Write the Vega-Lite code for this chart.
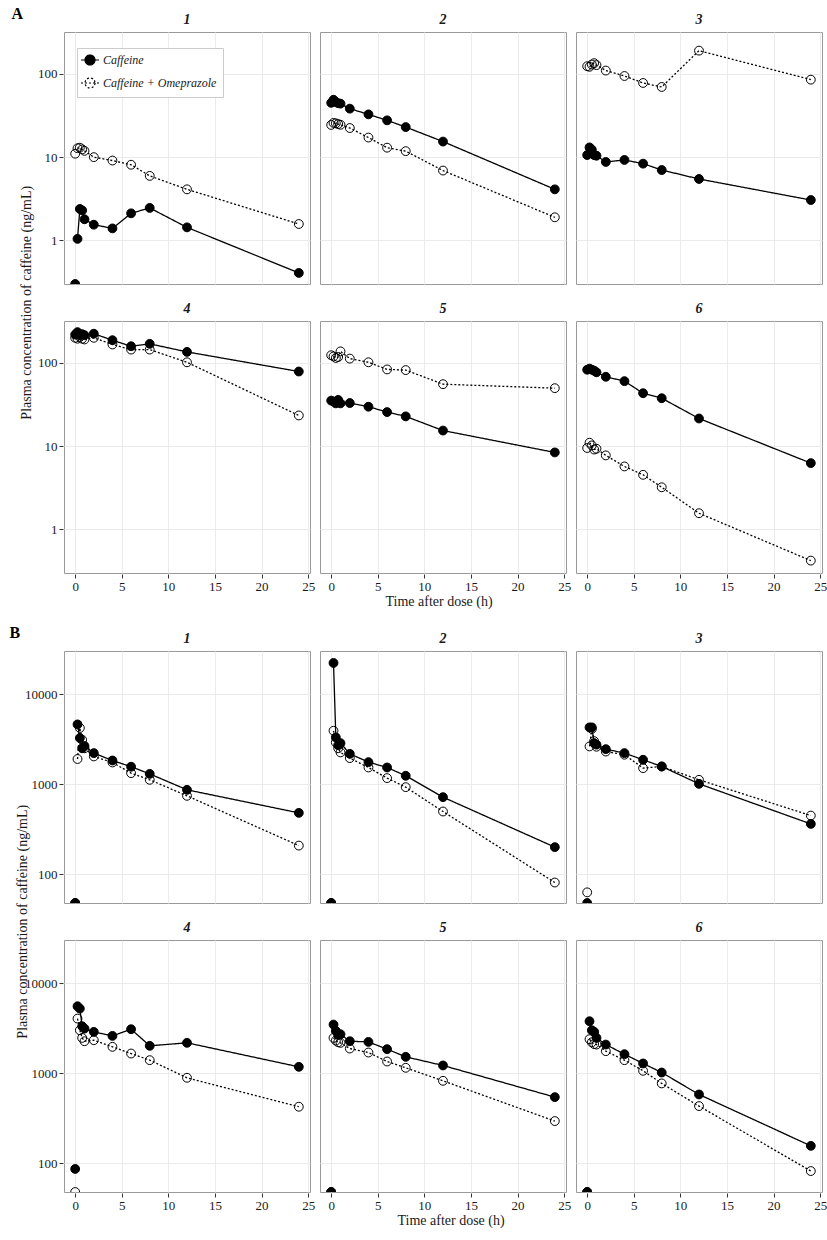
{
"$schema":"https://vega.github.io/schema/vega-lite/v6.json",
"background":"white",
"padding":{"left":9,"top":5,"right":3,"bottom":5},
"config":{
 "font":"Liberation Serif",
 "view":{"stroke":"#9a9a9a","strokeWidth":1},
 "axis":{"domain":false,"grid":true,"gridColor":"#ebebeb","gridWidth":1,"tickColor":"#333333","tickSize":4,"labelFont":"Liberation Serif","labelFontSize":13,"labelColor":"#1a1a1a","labelPadding":2},
 "header":{"title":null,"labelFont":"Liberation Serif","labelFontSize":14,"labelFontStyle":"italic","labelFontWeight":"bold","labelColor":"#1a1a1a","labelPadding":5},
 "title":{"font":"Liberation Serif","color":"#1a1a1a","fontWeight":"normal","fontSize":14}
},
"datasets":{
"A":[
{"subj":1,"trt":"Caffeine","time":0,"conc":0.298},{"subj":1,"trt":"Caffeine","time":0.25,"conc":1.04},{"subj":1,"trt":"Caffeine","time":0.5,"conc":2.38},{"subj":1,"trt":"Caffeine","time":0.75,"conc":2.29},{"subj":1,"trt":"Caffeine","time":1,"conc":1.79},{"subj":1,"trt":"Caffeine","time":2,"conc":1.54},{"subj":1,"trt":"Caffeine","time":4,"conc":1.39},{"subj":1,"trt":"Caffeine","time":6,"conc":2.11},{"subj":1,"trt":"Caffeine","time":8,"conc":2.45},{"subj":1,"trt":"Caffeine","time":12,"conc":1.43},{"subj":1,"trt":"Caffeine","time":24,"conc":0.405},
{"subj":1,"trt":"Caffeine + Omeprazole","time":0,"conc":11.0},{"subj":1,"trt":"Caffeine + Omeprazole","time":0.25,"conc":12.8},{"subj":1,"trt":"Caffeine + Omeprazole","time":0.5,"conc":13.0},{"subj":1,"trt":"Caffeine + Omeprazole","time":0.75,"conc":12.4},{"subj":1,"trt":"Caffeine + Omeprazole","time":1,"conc":11.9},{"subj":1,"trt":"Caffeine + Omeprazole","time":2,"conc":10.0},{"subj":1,"trt":"Caffeine + Omeprazole","time":4,"conc":9.1},{"subj":1,"trt":"Caffeine + Omeprazole","time":6,"conc":8.1},{"subj":1,"trt":"Caffeine + Omeprazole","time":8,"conc":5.95},{"subj":1,"trt":"Caffeine + Omeprazole","time":12,"conc":4.1},{"subj":1,"trt":"Caffeine + Omeprazole","time":24,"conc":1.57},
{"subj":2,"trt":"Caffeine","time":0,"conc":45},{"subj":2,"trt":"Caffeine","time":0.25,"conc":49},{"subj":2,"trt":"Caffeine","time":0.5,"conc":46},{"subj":2,"trt":"Caffeine","time":0.75,"conc":44.5},{"subj":2,"trt":"Caffeine","time":1,"conc":44},{"subj":2,"trt":"Caffeine","time":2,"conc":38.3},{"subj":2,"trt":"Caffeine","time":4,"conc":32.7},{"subj":2,"trt":"Caffeine","time":6,"conc":27.7},{"subj":2,"trt":"Caffeine","time":8,"conc":23},{"subj":2,"trt":"Caffeine","time":12,"conc":15.4},{"subj":2,"trt":"Caffeine","time":24,"conc":4.1},
{"subj":2,"trt":"Caffeine + Omeprazole","time":0,"conc":24.4},{"subj":2,"trt":"Caffeine + Omeprazole","time":0.25,"conc":25.8},{"subj":2,"trt":"Caffeine + Omeprazole","time":0.5,"conc":25.5},{"subj":2,"trt":"Caffeine + Omeprazole","time":0.75,"conc":25},{"subj":2,"trt":"Caffeine + Omeprazole","time":1,"conc":24.5},{"subj":2,"trt":"Caffeine + Omeprazole","time":2,"conc":22.4},{"subj":2,"trt":"Caffeine + Omeprazole","time":4,"conc":17.2},{"subj":2,"trt":"Caffeine + Omeprazole","time":6,"conc":13},{"subj":2,"trt":"Caffeine + Omeprazole","time":8,"conc":11.8},{"subj":2,"trt":"Caffeine + Omeprazole","time":12,"conc":6.9},{"subj":2,"trt":"Caffeine + Omeprazole","time":24,"conc":1.89},
{"subj":3,"trt":"Caffeine","time":0,"conc":10.6},{"subj":3,"trt":"Caffeine","time":0.25,"conc":13.1},{"subj":3,"trt":"Caffeine","time":0.5,"conc":12.3},{"subj":3,"trt":"Caffeine","time":0.75,"conc":10.6},{"subj":3,"trt":"Caffeine","time":1,"conc":10.4},{"subj":3,"trt":"Caffeine","time":2,"conc":8.75},{"subj":3,"trt":"Caffeine","time":4,"conc":9.25},{"subj":3,"trt":"Caffeine","time":6,"conc":8.35},{"subj":3,"trt":"Caffeine","time":8,"conc":7.0},{"subj":3,"trt":"Caffeine","time":12,"conc":5.46},{"subj":3,"trt":"Caffeine","time":24,"conc":3.05},
{"subj":3,"trt":"Caffeine + Omeprazole","time":0,"conc":124},{"subj":3,"trt":"Caffeine + Omeprazole","time":0.25,"conc":122},{"subj":3,"trt":"Caffeine + Omeprazole","time":0.5,"conc":130},{"subj":3,"trt":"Caffeine + Omeprazole","time":0.75,"conc":135},{"subj":3,"trt":"Caffeine + Omeprazole","time":1,"conc":128},{"subj":3,"trt":"Caffeine + Omeprazole","time":2,"conc":110},{"subj":3,"trt":"Caffeine + Omeprazole","time":4,"conc":94.6},{"subj":3,"trt":"Caffeine + Omeprazole","time":6,"conc":78},{"subj":3,"trt":"Caffeine + Omeprazole","time":8,"conc":69.8},{"subj":3,"trt":"Caffeine + Omeprazole","time":12,"conc":191},{"subj":3,"trt":"Caffeine + Omeprazole","time":24,"conc":85.5},
{"subj":4,"trt":"Caffeine","time":0,"conc":220},{"subj":4,"trt":"Caffeine","time":0.25,"conc":235},{"subj":4,"trt":"Caffeine","time":0.5,"conc":216},{"subj":4,"trt":"Caffeine","time":0.75,"conc":222},{"subj":4,"trt":"Caffeine","time":1,"conc":216},{"subj":4,"trt":"Caffeine","time":2,"conc":225},{"subj":4,"trt":"Caffeine","time":4,"conc":188},{"subj":4,"trt":"Caffeine","time":6,"conc":159},{"subj":4,"trt":"Caffeine","time":8,"conc":170},{"subj":4,"trt":"Caffeine","time":12,"conc":136},{"subj":4,"trt":"Caffeine","time":24,"conc":79},
{"subj":4,"trt":"Caffeine + Omeprazole","time":0,"conc":201},{"subj":4,"trt":"Caffeine + Omeprazole","time":0.25,"conc":196},{"subj":4,"trt":"Caffeine + Omeprazole","time":0.5,"conc":205},{"subj":4,"trt":"Caffeine + Omeprazole","time":0.75,"conc":196},{"subj":4,"trt":"Caffeine + Omeprazole","time":1,"conc":192},{"subj":4,"trt":"Caffeine + Omeprazole","time":2,"conc":201},{"subj":4,"trt":"Caffeine + Omeprazole","time":4,"conc":167},{"subj":4,"trt":"Caffeine + Omeprazole","time":6,"conc":145},{"subj":4,"trt":"Caffeine + Omeprazole","time":8,"conc":145},{"subj":4,"trt":"Caffeine + Omeprazole","time":12,"conc":102},{"subj":4,"trt":"Caffeine + Omeprazole","time":24,"conc":23.4},
{"subj":5,"trt":"Caffeine","time":0,"conc":35.3},{"subj":5,"trt":"Caffeine","time":0.25,"conc":34.4},{"subj":5,"trt":"Caffeine","time":0.5,"conc":32.7},{"subj":5,"trt":"Caffeine","time":0.75,"conc":36},{"subj":5,"trt":"Caffeine","time":1,"conc":32.7},{"subj":5,"trt":"Caffeine","time":2,"conc":33},{"subj":5,"trt":"Caffeine","time":4,"conc":29.8},{"subj":5,"trt":"Caffeine","time":6,"conc":25.7},{"subj":5,"trt":"Caffeine","time":8,"conc":22.8},{"subj":5,"trt":"Caffeine","time":12,"conc":15.4},{"subj":5,"trt":"Caffeine","time":24,"conc":8.4},
{"subj":5,"trt":"Caffeine + Omeprazole","time":0,"conc":124},{"subj":5,"trt":"Caffeine + Omeprazole","time":0.25,"conc":120},{"subj":5,"trt":"Caffeine + Omeprazole","time":0.5,"conc":115},{"subj":5,"trt":"Caffeine + Omeprazole","time":0.75,"conc":118},{"subj":5,"trt":"Caffeine + Omeprazole","time":1,"conc":138},{"subj":5,"trt":"Caffeine + Omeprazole","time":2,"conc":113},{"subj":5,"trt":"Caffeine + Omeprazole","time":4,"conc":102},{"subj":5,"trt":"Caffeine + Omeprazole","time":6,"conc":83.7},{"subj":5,"trt":"Caffeine + Omeprazole","time":8,"conc":82.2},{"subj":5,"trt":"Caffeine + Omeprazole","time":12,"conc":55.6},{"subj":5,"trt":"Caffeine + Omeprazole","time":24,"conc":49.8},
{"subj":6,"trt":"Caffeine","time":0,"conc":83},{"subj":6,"trt":"Caffeine","time":0.25,"conc":85.5},{"subj":6,"trt":"Caffeine","time":0.5,"conc":83},{"subj":6,"trt":"Caffeine","time":0.75,"conc":80.8},{"subj":6,"trt":"Caffeine","time":1,"conc":77.3},{"subj":6,"trt":"Caffeine","time":2,"conc":68.3},{"subj":6,"trt":"Caffeine","time":4,"conc":60.5},{"subj":6,"trt":"Caffeine","time":6,"conc":43.3},{"subj":6,"trt":"Caffeine","time":8,"conc":37.7},{"subj":6,"trt":"Caffeine","time":12,"conc":21.5},{"subj":6,"trt":"Caffeine","time":24,"conc":6.25},
{"subj":6,"trt":"Caffeine + Omeprazole","time":0,"conc":9.5},{"subj":6,"trt":"Caffeine + Omeprazole","time":0.25,"conc":11},{"subj":6,"trt":"Caffeine + Omeprazole","time":0.5,"conc":10.2},{"subj":6,"trt":"Caffeine + Omeprazole","time":0.75,"conc":9.1},{"subj":6,"trt":"Caffeine + Omeprazole","time":1,"conc":9.3},{"subj":6,"trt":"Caffeine + Omeprazole","time":2,"conc":7.74},{"subj":6,"trt":"Caffeine + Omeprazole","time":4,"conc":5.7},{"subj":6,"trt":"Caffeine + Omeprazole","time":6,"conc":4.52},{"subj":6,"trt":"Caffeine + Omeprazole","time":8,"conc":3.2},{"subj":6,"trt":"Caffeine + Omeprazole","time":12,"conc":1.56},{"subj":6,"trt":"Caffeine + Omeprazole","time":24,"conc":0.42}
],
"B":[
{"subj":1,"trt":"Caffeine","time":0,"conc":48},{"subj":1,"trt":"Caffeine","time":0.25,"conc":4600},{"subj":1,"trt":"Caffeine","time":0.5,"conc":3250},{"subj":1,"trt":"Caffeine","time":0.75,"conc":2500},{"subj":1,"trt":"Caffeine","time":1,"conc":2650},{"subj":1,"trt":"Caffeine","time":2,"conc":2210},{"subj":1,"trt":"Caffeine","time":4,"conc":1830},{"subj":1,"trt":"Caffeine","time":6,"conc":1560},{"subj":1,"trt":"Caffeine","time":8,"conc":1300},{"subj":1,"trt":"Caffeine","time":12,"conc":865},{"subj":1,"trt":"Caffeine","time":24,"conc":480},
{"subj":1,"trt":"Caffeine + Omeprazole","time":0,"conc":48},{"subj":1,"trt":"Caffeine + Omeprazole","time":0.25,"conc":1900},{"subj":1,"trt":"Caffeine + Omeprazole","time":0.5,"conc":4200},{"subj":1,"trt":"Caffeine + Omeprazole","time":0.75,"conc":3100},{"subj":1,"trt":"Caffeine + Omeprazole","time":1,"conc":2500},{"subj":1,"trt":"Caffeine + Omeprazole","time":2,"conc":2030},{"subj":1,"trt":"Caffeine + Omeprazole","time":4,"conc":1740},{"subj":1,"trt":"Caffeine + Omeprazole","time":6,"conc":1325},{"subj":1,"trt":"Caffeine + Omeprazole","time":8,"conc":1117},{"subj":1,"trt":"Caffeine + Omeprazole","time":12,"conc":742},{"subj":1,"trt":"Caffeine + Omeprazole","time":24,"conc":208},
{"subj":2,"trt":"Caffeine","time":0,"conc":48},{"subj":2,"trt":"Caffeine","time":0.25,"conc":22100},{"subj":2,"trt":"Caffeine","time":0.5,"conc":3300},{"subj":2,"trt":"Caffeine","time":0.75,"conc":2700},{"subj":2,"trt":"Caffeine","time":1,"conc":2850},{"subj":2,"trt":"Caffeine","time":2,"conc":2170},{"subj":2,"trt":"Caffeine","time":4,"conc":1755},{"subj":2,"trt":"Caffeine","time":6,"conc":1530},{"subj":2,"trt":"Caffeine","time":8,"conc":1238},{"subj":2,"trt":"Caffeine","time":12,"conc":717},{"subj":2,"trt":"Caffeine","time":24,"conc":200},
{"subj":2,"trt":"Caffeine + Omeprazole","time":0,"conc":48},{"subj":2,"trt":"Caffeine + Omeprazole","time":0.25,"conc":3910},{"subj":2,"trt":"Caffeine + Omeprazole","time":0.5,"conc":2900},{"subj":2,"trt":"Caffeine + Omeprazole","time":0.75,"conc":2500},{"subj":2,"trt":"Caffeine + Omeprazole","time":1,"conc":2250},{"subj":2,"trt":"Caffeine + Omeprazole","time":2,"conc":1945},{"subj":2,"trt":"Caffeine + Omeprazole","time":4,"conc":1530},{"subj":2,"trt":"Caffeine + Omeprazole","time":6,"conc":1166},{"subj":2,"trt":"Caffeine + Omeprazole","time":8,"conc":926},{"subj":2,"trt":"Caffeine + Omeprazole","time":12,"conc":497},{"subj":2,"trt":"Caffeine + Omeprazole","time":24,"conc":81},
{"subj":3,"trt":"Caffeine","time":0,"conc":48},{"subj":3,"trt":"Caffeine","time":0.25,"conc":4260},{"subj":3,"trt":"Caffeine","time":0.5,"conc":4260},{"subj":3,"trt":"Caffeine","time":0.75,"conc":2855},{"subj":3,"trt":"Caffeine","time":1,"conc":2740},{"subj":3,"trt":"Caffeine","time":2,"conc":2445},{"subj":3,"trt":"Caffeine","time":4,"conc":2210},{"subj":3,"trt":"Caffeine","time":6,"conc":1864},{"subj":3,"trt":"Caffeine","time":8,"conc":1570},{"subj":3,"trt":"Caffeine","time":12,"conc":1008},{"subj":3,"trt":"Caffeine","time":24,"conc":362},
{"subj":3,"trt":"Caffeine + Omeprazole","time":0,"conc":63},{"subj":3,"trt":"Caffeine + Omeprazole","time":0.25,"conc":2620},{"subj":3,"trt":"Caffeine + Omeprazole","time":0.5,"conc":4100},{"subj":3,"trt":"Caffeine + Omeprazole","time":0.75,"conc":3000},{"subj":3,"trt":"Caffeine + Omeprazole","time":1,"conc":2600},{"subj":3,"trt":"Caffeine + Omeprazole","time":2,"conc":2300},{"subj":3,"trt":"Caffeine + Omeprazole","time":4,"conc":2120},{"subj":3,"trt":"Caffeine + Omeprazole","time":6,"conc":1505},{"subj":3,"trt":"Caffeine + Omeprazole","time":8,"conc":1570},{"subj":3,"trt":"Caffeine + Omeprazole","time":12,"conc":1117},{"subj":3,"trt":"Caffeine + Omeprazole","time":24,"conc":448},
{"subj":4,"trt":"Caffeine","time":0,"conc":86.5},{"subj":4,"trt":"Caffeine","time":0.25,"conc":5520},{"subj":4,"trt":"Caffeine","time":0.5,"conc":5200},{"subj":4,"trt":"Caffeine","time":0.75,"conc":3310},{"subj":4,"trt":"Caffeine","time":1,"conc":3120},{"subj":4,"trt":"Caffeine","time":2,"conc":2870},{"subj":4,"trt":"Caffeine","time":4,"conc":2590},{"subj":4,"trt":"Caffeine","time":6,"conc":3070},{"subj":4,"trt":"Caffeine","time":8,"conc":2010},{"subj":4,"trt":"Caffeine","time":12,"conc":2170},{"subj":4,"trt":"Caffeine","time":24,"conc":1175},
{"subj":4,"trt":"Caffeine + Omeprazole","time":0,"conc":48},{"subj":4,"trt":"Caffeine + Omeprazole","time":0.25,"conc":4030},{"subj":4,"trt":"Caffeine + Omeprazole","time":0.5,"conc":2990},{"subj":4,"trt":"Caffeine + Omeprazole","time":0.75,"conc":2460},{"subj":4,"trt":"Caffeine + Omeprazole","time":1,"conc":2260},{"subj":4,"trt":"Caffeine + Omeprazole","time":2,"conc":2320},{"subj":4,"trt":"Caffeine + Omeprazole","time":4,"conc":1958},{"subj":4,"trt":"Caffeine + Omeprazole","time":6,"conc":1650},{"subj":4,"trt":"Caffeine + Omeprazole","time":8,"conc":1393},{"subj":4,"trt":"Caffeine + Omeprazole","time":12,"conc":888},{"subj":4,"trt":"Caffeine + Omeprazole","time":24,"conc":424},
{"subj":5,"trt":"Caffeine","time":0,"conc":48},{"subj":5,"trt":"Caffeine","time":0.25,"conc":3460},{"subj":5,"trt":"Caffeine","time":0.5,"conc":2940},{"subj":5,"trt":"Caffeine","time":0.75,"conc":2650},{"subj":5,"trt":"Caffeine","time":1,"conc":2700},{"subj":5,"trt":"Caffeine","time":2,"conc":2260},{"subj":5,"trt":"Caffeine","time":4,"conc":2220},{"subj":5,"trt":"Caffeine","time":6,"conc":1845},{"subj":5,"trt":"Caffeine","time":8,"conc":1517},{"subj":5,"trt":"Caffeine","time":12,"conc":1216},{"subj":5,"trt":"Caffeine","time":24,"conc":542},
{"subj":5,"trt":"Caffeine + Omeprazole","time":0,"conc":48},{"subj":5,"trt":"Caffeine + Omeprazole","time":0.25,"conc":2460},{"subj":5,"trt":"Caffeine + Omeprazole","time":0.5,"conc":2300},{"subj":5,"trt":"Caffeine + Omeprazole","time":0.75,"conc":2200},{"subj":5,"trt":"Caffeine + Omeprazole","time":1,"conc":2167},{"subj":5,"trt":"Caffeine + Omeprazole","time":2,"conc":1875},{"subj":5,"trt":"Caffeine + Omeprazole","time":4,"conc":1693},{"subj":5,"trt":"Caffeine + Omeprazole","time":6,"conc":1346},{"subj":5,"trt":"Caffeine + Omeprazole","time":8,"conc":1146},{"subj":5,"trt":"Caffeine + Omeprazole","time":12,"conc":822},{"subj":5,"trt":"Caffeine + Omeprazole","time":24,"conc":294},
{"subj":6,"trt":"Caffeine","time":0,"conc":48},{"subj":6,"trt":"Caffeine","time":0.25,"conc":3765},{"subj":6,"trt":"Caffeine","time":0.5,"conc":2990},{"subj":6,"trt":"Caffeine","time":0.75,"conc":2870},{"subj":6,"trt":"Caffeine","time":1,"conc":2460},{"subj":6,"trt":"Caffeine","time":2,"conc":2075},{"subj":6,"trt":"Caffeine","time":4,"conc":1623},{"subj":6,"trt":"Caffeine","time":6,"conc":1280},{"subj":6,"trt":"Caffeine","time":8,"conc":1016},{"subj":6,"trt":"Caffeine","time":12,"conc":580},{"subj":6,"trt":"Caffeine","time":24,"conc":156},
{"subj":6,"trt":"Caffeine + Omeprazole","time":0,"conc":48},{"subj":6,"trt":"Caffeine + Omeprazole","time":0.25,"conc":2380},{"subj":6,"trt":"Caffeine + Omeprazole","time":0.5,"conc":2200},{"subj":6,"trt":"Caffeine + Omeprazole","time":0.75,"conc":2100},{"subj":6,"trt":"Caffeine + Omeprazole","time":1,"conc":2075},{"subj":6,"trt":"Caffeine + Omeprazole","time":2,"conc":1753},{"subj":6,"trt":"Caffeine + Omeprazole","time":4,"conc":1393},{"subj":6,"trt":"Caffeine + Omeprazole","time":6,"conc":1062},{"subj":6,"trt":"Caffeine + Omeprazole","time":8,"conc":769},{"subj":6,"trt":"Caffeine + Omeprazole","time":12,"conc":431},{"subj":6,"trt":"Caffeine + Omeprazole","time":24,"conc":82}
]
},
"columns":1,
"align":"none",
"spacing":15,
"concat":[
{
 "title":{"text":"A","anchor":"start","frame":"bounds","fontSize":16,"fontWeight":"bold","color":"black","offset":-9,"dx":-8},
 "vconcat":[{
  "title":{"text":"Time after dose (h)","orient":"bottom","anchor":"middle","offset":2,"dx":16},
  "vconcat":[{
   "data":{"name":"A"},
   "title":{"text":"Plasma concentration of caffeine (ng/mL)","orient":"left","anchor":"middle","offset":4},
   "facet":{"field":"subj","type":"ordinal","header":{"title":null}},
   "columns":3,
   "spacing":{"row":16,"column":8},
   "spec":{
    "width":246,"height":252,
    "layer":[
     {"transform":[{"filter":"datum.time > 0"}],
      "mark":{"type":"line","color":"black","strokeWidth":1.3,"clip":true},
      "encoding":{
       "x":{"field":"time","type":"quantitative","scale":{"domain":[-1.2,25.2],"nice":false,"zero":false},"axis":{"values":[0,5,10,15,20,25],"title":null}},
       "y":{"field":"conc","type":"quantitative","scale":{"type":"log","domain":[0.298,320],"nice":false},"axis":{"values":[1,10,100],"format":"d","title":null}},
       "strokeDash":{"field":"trt","type":"nominal","scale":{"domain":["Caffeine","Caffeine + Omeprazole"],"range":[[1,0],[2,2]]},
        "legend":{"title":null,"orient":"none","legendX":13,"legendY":16,"labelFont":"Liberation Serif","labelFontStyle":"italic","labelFontSize":12,"labelColor":"#1a1a1a","strokeColor":"#cccccc","fillColor":"white","padding":6,"rowPadding":7,"symbolSize":100,"symbolStrokeColor":"black","symbolStrokeWidth":1.2,"symbolOffset":1,"labelOffset":7,"symbolType":"M-1.8,0L1.8,0M1,0A1,1 0 1,1 -1,0A1,1 0 1,1 1,0Z"}}
      }},
     {"mark":{"type":"point","filled":true,"stroke":"black","strokeWidth":1,"size":78,"opacity":1,"clip":true},
      "encoding":{
       "x":{"field":"time","type":"quantitative"},
       "y":{"field":"conc","type":"quantitative"},
       "fill":{"field":"trt","type":"nominal","scale":{"domain":["Caffeine","Caffeine + Omeprazole"],"range":["black","transparent"]},
        "legend":{"title":null,"orient":"none","legendX":13,"legendY":16,"labelFont":"Liberation Serif","labelFontStyle":"italic","labelFontSize":12,"labelColor":"#1a1a1a","strokeColor":"#cccccc","fillColor":"white","padding":6,"rowPadding":7,"symbolSize":100,"symbolStrokeColor":"black","symbolStrokeWidth":1.2,"symbolOffset":1,"labelOffset":7,"symbolType":"M-1.8,0L1.8,0M1,0A1,1 0 1,1 -1,0A1,1 0 1,1 1,0Z"}}
      }}
    ]
   }
  }]
 }]
},
{
 "title":{"text":"B","anchor":"start","frame":"bounds","fontSize":16,"fontWeight":"bold","color":"black","offset":-9,"dx":-6},
 "vconcat":[{
  "title":{"text":"Time after dose (h)","orient":"bottom","anchor":"middle","offset":2,"dx":30},
  "vconcat":[{
   "data":{"name":"B"},
   "title":{"text":"Plasma concentration of caffeine (ng/mL)","orient":"left","anchor":"middle","offset":-5},
   "facet":{"field":"subj","type":"ordinal","header":{"title":null}},
   "columns":3,
   "spacing":{"row":16,"column":8},
   "spec":{
    "width":246,"height":252,
    "layer":[
     {"transform":[{"filter":"datum.time > 0"}],
      "mark":{"type":"line","color":"black","strokeWidth":1.3,"clip":true},
      "encoding":{
       "x":{"field":"time","type":"quantitative","scale":{"domain":[-1.2,25.2],"nice":false,"zero":false},"axis":{"values":[0,5,10,15,20,25],"title":null}},
       "y":{"field":"conc","type":"quantitative","scale":{"type":"log","domain":[48,30000],"nice":false},"axis":{"values":[100,1000,10000],"format":"d","title":null}},
       "strokeDash":{"field":"trt","type":"nominal","scale":{"domain":["Caffeine","Caffeine + Omeprazole"],"range":[[1,0],[2,2]]},"legend":null}
      }},
     {"mark":{"type":"point","filled":true,"stroke":"black","strokeWidth":1,"size":78,"opacity":1,"clip":true},
      "encoding":{
       "x":{"field":"time","type":"quantitative"},
       "y":{"field":"conc","type":"quantitative"},
       "fill":{"field":"trt","type":"nominal","scale":{"domain":["Caffeine","Caffeine + Omeprazole"],"range":["black","transparent"]},"legend":null}
      }}
    ]
   }
  }]
 }]
}
]
}
